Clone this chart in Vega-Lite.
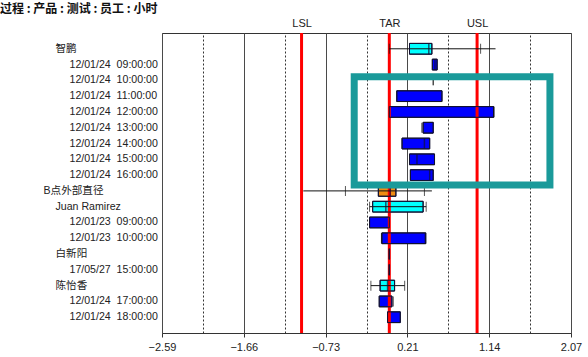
{
  "$schema": "https://vega.github.io/schema/vega-lite/v6.json",
  "autosize": "none",
  "width": 409,
  "height": 300,
  "padding": {"left": 162, "top": 33, "right": 17, "bottom": 24},
  "background": "white",
  "title": {"text": "过程 : 产品 : 测试 : 员工 : 小时", "anchor": "start", "frame": "group", "dx": -162, "offset": 1, "fontSize": 12, "fontWeight": "bold", "color": "#111", "font": "Noto Sans CJK SC"},
  "datasets": {
    "rows": [
      {"row": "智鹏", "level": "员工", "lo": 0.0, "hi": 1.21, "wlo": 0.0, "whi": 1.04, "q1": 0.23, "q3": 0.485, "med": 0.45},
      {"row": "12/01/24\u00a0\u00a009:00:00", "level": "小时", "lo": null, "hi": null, "wlo": null, "whi": null, "q1": 0.49, "q3": 0.545, "med": 0.52},
      {"row": "12/01/24\u00a0\u00a010:00:00", "level": "小时", "lo": null, "hi": null, "wlo": 0.5, "whi": 0.5, "q1": null, "q3": null, "med": null},
      {"row": "12/01/24\u00a0\u00a011:00:00", "level": "小时", "lo": null, "hi": null, "wlo": null, "whi": null, "q1": 0.085, "q3": 0.6, "med": null},
      {"row": "12/01/24\u00a0\u00a012:00:00", "level": "小时", "lo": null, "hi": null, "wlo": null, "whi": 1.19, "q1": 0.0, "q3": 1.19, "med": null},
      {"row": "12/01/24\u00a0\u00a013:00:00", "level": "小时", "lo": null, "hi": null, "wlo": 0.37, "whi": null, "q1": 0.385, "q3": 0.5, "med": null},
      {"row": "12/01/24\u00a0\u00a014:00:00", "level": "小时", "lo": null, "hi": null, "wlo": null, "whi": null, "q1": 0.145, "q3": 0.46, "med": 0.4},
      {"row": "12/01/24\u00a0\u00a015:00:00", "level": "小时", "lo": null, "hi": null, "wlo": null, "whi": null, "q1": 0.23, "q3": 0.515, "med": 0.315},
      {"row": "12/01/24\u00a0\u00a016:00:00", "level": "小时", "lo": null, "hi": null, "wlo": null, "whi": null, "q1": 0.24, "q3": 0.5, "med": 0.46},
      {"row": "B点外部直径", "level": "测试", "lo": -0.98, "hi": 0.485, "wlo": -0.5, "whi": 0.4, "q1": -0.125, "q3": 0.075, "med": 0.01},
      {"row": "Juan Ramirez", "level": "员工", "lo": -0.225, "hi": 0.42, "wlo": -0.225, "whi": 0.42, "q1": -0.19, "q3": 0.385, "med": -0.04},
      {"row": "12/01/23\u00a0\u00a009:00:00", "level": "小时", "lo": null, "hi": null, "wlo": null, "whi": null, "q1": -0.225, "q3": 0.0, "med": null},
      {"row": "12/01/23\u00a0\u00a010:00:00", "level": "小时", "lo": null, "hi": null, "wlo": -0.09, "whi": null, "q1": -0.085, "q3": 0.415, "med": 0.41},
      {"row": "白新阳", "level": "员工", "lo": null, "hi": null, "wlo": null, "whi": null, "q1": 0.0, "q3": 0.0, "med": 0.0},
      {"row": "17/05/27\u00a0\u00a015:00:00", "level": "小时", "lo": null, "hi": null, "wlo": null, "whi": null, "q1": 0.0, "q3": 0.0, "med": 0.0},
      {"row": "陈怡香", "level": "员工", "lo": -0.21, "hi": 0.175, "wlo": -0.21, "whi": 0.175, "q1": -0.105, "q3": 0.06, "med": -0.02},
      {"row": "12/01/24\u00a0\u00a017:00:00", "level": "小时", "lo": null, "hi": null, "wlo": null, "whi": 0.045, "q1": -0.115, "q3": 0.03, "med": null},
      {"row": "12/01/24\u00a0\u00a018:00:00", "level": "小时", "lo": null, "hi": null, "wlo": null, "whi": null, "q1": -0.02, "q3": 0.125, "med": null}
    ],
    "limits": [
      {"name": "LSL", "value": -1.0},
      {"name": "TAR", "value": 0.0},
      {"name": "USL", "value": 1.0}
    ],
    "frame": [
      {"top": "12/01/24\u00a0\u00a010:00:00", "bottom": "B点外部直径", "left": -0.4, "right": 1.83}
    ]
  },
  "resolve": {"axis": {"x": "independent"}},
  "layer": [
    {
      "data": {"name": "rows"},
      "mark": {"type": "bar", "height": {"band": 0.68}, "stroke": "#111133", "strokeWidth": 1},
      "encoding": {
        "y": {
          "field": "row", "type": "nominal", "title": null,
          "scale": {"type": "band", "paddingInner": 0, "paddingOuter": 0.5, "domain": [
            "智鹏",
            "12/01/24\u00a0\u00a009:00:00",
            "12/01/24\u00a0\u00a010:00:00",
            "12/01/24\u00a0\u00a011:00:00",
            "12/01/24\u00a0\u00a012:00:00",
            "12/01/24\u00a0\u00a013:00:00",
            "12/01/24\u00a0\u00a014:00:00",
            "12/01/24\u00a0\u00a015:00:00",
            "12/01/24\u00a0\u00a016:00:00",
            "B点外部直径",
            "Juan Ramirez",
            "12/01/23\u00a0\u00a009:00:00",
            "12/01/23\u00a0\u00a010:00:00",
            "白新阳",
            "17/05/27\u00a0\u00a015:00:00",
            "陈怡香",
            "12/01/24\u00a0\u00a017:00:00",
            "12/01/24\u00a0\u00a018:00:00"
          ]},
          "axis": {
            "orient": "left",
            "title": null, "ticks": false, "tickSize": 0, "domain": false, "grid": false,
            "labelAlign": "left", "labelBaseline": "middle",
            "labelPadding": {"expr": "indexof(datum.value, ':') >= 0 ? 93 : (datum.value == 'B点外部直径' ? 119 : 107)"},
            "labelFontSize": 10.6, "labelColor": "#222", "labelLimit": 200
          }
        },
        "x": {
          "field": "q1", "type": "quantitative", "title": null,
          "scale": {"domain": [-2.59, 2.07], "nice": false, "zero": false},
          "axis": {
            "orient": "bottom", "title": null,
            "values": [-2.59, -1.658, -0.726, 0.206, 1.138, 2.07],
            "format": ".2f", "labelFlush": false, "labelOverlap": false,
            "grid": true, "gridColor": "#4a4a4a", "gridWidth": 1,
            "ticks": true, "tickSize": 4, "tickColor": "#333",
            "domain": false, "labelPadding": 4, "labelFontSize": 11, "labelColor": "#222"
          }
        },
        "x2": {"field": "q3"},
        "color": {
          "field": "level", "type": "nominal", "legend": null,
          "scale": {"domain": ["测试", "员工", "小时"], "range": ["#F08C12", "#00FFFF", "#0000FF"]}
        }
      }
    },
    {
      "data": {"name": "limits"},
      "mark": {"type": "rule", "color": "#FF0000", "strokeWidth": 3},
      "encoding": {
        "x": {
          "field": "value", "type": "quantitative", "title": null,
          "scale": {"domain": [-2.59, 2.07], "nice": false, "zero": false},
          "axis": {
            "orient": "top", "title": null, "values": [-1, 0, 1],
            "labelExpr": "datum.value < -0.5 ? 'LSL' : (datum.value < 0.5 ? 'TAR' : 'USL')",
            "ticks": false, "domain": false, "grid": false, "labelPadding": 5,
            "labelFontSize": 11, "labelColor": "#222", "labelFlush": false
          }
        }
      }
    },
    {
      "data": {"name": "rows"},
      "mark": {"type": "rule", "color": "#111", "strokeWidth": 1},
      "encoding": {
        "y": {"field": "row", "type": "nominal", "title": null},
        "x": {
          "field": "lo", "type": "quantitative", "title": null,
          "axis": {
            "orient": "bottom", "title": null,
            "values": [-2.124, -1.192, -0.26, 0.672, 1.604],
            "grid": true, "gridDash": [2, 2], "gridColor": "#333", "gridWidth": 1,
            "labels": false, "ticks": false, "domain": false
          }
        },
        "x2": {"field": "hi"}
      }
    },
    {
      "data": {"name": "rows"},
      "mark": {"type": "bar", "height": {"band": 0.68}, "fill": null, "fillOpacity": 0, "stroke": "#111133", "strokeWidth": 1},
      "encoding": {
        "y": {"field": "row", "type": "nominal", "title": null},
        "x": {"field": "q1", "type": "quantitative", "title": null, "axis": null},
        "x2": {"field": "q3"}
      }
    },
    {
      "data": {"name": "rows"},
      "mark": {"type": "tick", "color": "#111", "size": 10, "thickness": 1},
      "encoding": {
        "y": {"field": "row", "type": "nominal", "title": null},
        "x": {"field": "wlo", "type": "quantitative", "title": null, "axis": null}
      }
    },
    {
      "data": {"name": "rows"},
      "mark": {"type": "tick", "color": "#111", "size": 10, "thickness": 1},
      "encoding": {
        "y": {"field": "row", "type": "nominal", "title": null},
        "x": {"field": "whi", "type": "quantitative", "title": null, "axis": null}
      }
    },
    {
      "data": {"name": "rows"},
      "mark": {"type": "tick", "color": "#111133", "size": 10.7, "thickness": 1.5},
      "encoding": {
        "y": {"field": "row", "type": "nominal", "title": null},
        "x": {"field": "med", "type": "quantitative", "title": null, "axis": null}
      }
    },
    {
      "data": {"name": "frame"},
      "mark": {"type": "rect", "fill": null, "fillOpacity": 0, "stroke": "#1A9A9A", "strokeWidth": 7},
      "encoding": {
        "y": {"field": "top", "type": "nominal", "title": null, "bandPosition": 0.27},
        "y2": {"field": "bottom", "bandPosition": 0.13},
        "x": {"field": "left", "type": "quantitative", "title": null, "axis": null},
        "x2": {"field": "right"}
      }
    }
  ],
  "config": {
    "font": "Liberation Sans, Noto Sans CJK SC, sans-serif",
    "view": {"stroke": "#333", "strokeWidth": 1}
  }
}
